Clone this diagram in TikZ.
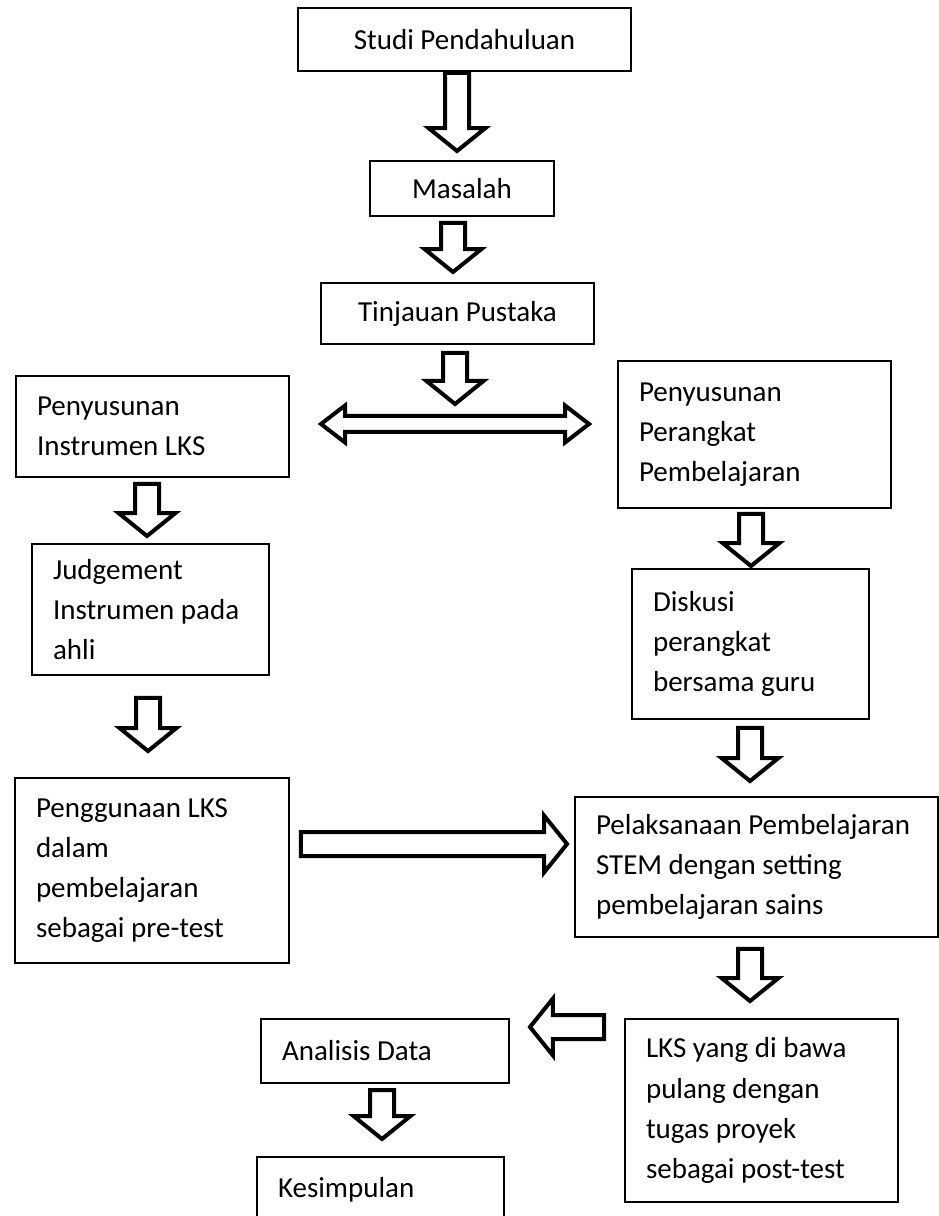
\documentclass[tikz,border=0pt]{standalone}
\usepackage{fontspec}
\setmainfont{Carlito}
\usetikzlibrary{calc}

\tikzset{
  box/.style={draw, line width=0.04cm, inner xsep=0.42cm, inner ysep=0pt, align=flush left,
    font=\fontsize{16.5}{22.8}\selectfont},
  midbox/.style={draw, line width=0.04cm, inner sep=0pt, align=center,
    font=\fontsize{16.5}{22.8}\selectfont},
  fat/.style={draw, line width=0.08cm, fill=white, line join=miter},
}

% hollow block arrow, #1 tail, #2 tip
\newcommand{\fatarrow}[2]{
  \coordinate (fa) at (#1);
  \coordinate (fb) at (#2);
  \coordinate (fc) at ($(fb)!0.46cm!(fa)$);
  \draw[fat] ($(fa)!0.24cm!90:(fb)$) -- ($(fc)!0.24cm!90:(fb)$) -- ($(fc)!0.57cm!90:(fb)$)
    -- (fb) -- ($(fc)!0.57cm!-90:(fb)$) -- ($(fc)!0.24cm!-90:(fb)$) -- ($(fa)!0.24cm!-90:(fb)$) -- cycle;
}
% hollow block arrow with two heads
\newcommand{\fatboth}[2]{
  \coordinate (fa) at (#1);
  \coordinate (fb) at (#2);
  \coordinate (fc) at ($(fb)!0.48cm!(fa)$);
  \coordinate (fd) at ($(fa)!0.48cm!(fb)$);
  \draw[fat] (fa) -- ($(fd)!0.37cm!90:(fb)$) -- ($(fd)!0.16cm!90:(fb)$) -- ($(fc)!0.16cm!90:(fb)$)
    -- ($(fc)!0.37cm!90:(fb)$) -- (fb) -- ($(fc)!0.37cm!-90:(fb)$) -- ($(fc)!0.16cm!-90:(fb)$)
    -- ($(fd)!0.16cm!-90:(fb)$) -- ($(fd)!0.37cm!-90:(fb)$) -- cycle;
}

\begin{document}
\begin{tikzpicture}[x=0.02cm, y=-0.02cm]
  \useasboundingbox (0,0) rectangle (939,1216);

  % middle column
  \node[midbox, minimum width=6.66cm, minimum height=1.26cm] (studi) at (464.5,39.5) {Studi Pendahuluan};
  \node[midbox, minimum width=3.68cm, minimum height=1.1cm] (masalah) at (462,188.5) {Masalah};
  \node[midbox, minimum width=5.46cm, minimum height=1.22cm] (tinjauan) at (457.5,313.5) {Tinjauan Pustaka};

  % left column
  \node[box, text width=4.62cm, minimum height=2.02cm] (instrumen) at (152.5,426.5) {Penyusunan\\Instrumen LKS};
  \node[box, text width=3.9cm, minimum height=2.62cm] (judge) at (150.5,609.5) {Judgement\\Instrumen pada\\ahli};
  \node[box, text width=4.64cm, minimum height=3.7cm] (pakai) at (152,870.5) {Penggunaan LKS\\dalam\\pembelajaran\\sebagai pre-test};

  % right column
  \node[box, text width=4.62cm, minimum height=2.94cm] (perangkat) at (754.5,434.5) {Penyusunan\\Perangkat\\Pembelajaran};
  \node[box, text width=3.9cm, minimum height=3cm] (diskusi) at (750.5,644) {Diskusi\\perangkat\\bersama guru};
  \node[box, text width=6.42cm, minimum height=2.8cm] (laksana) at (756.5,867) {Pelaksanaan~Pembelajaran\\STEM dengan setting\\pembelajaran sains};
  \node[box, text width=4.62cm, minimum height=3.66cm] (lksrumah) at (761.5,1110.5) {LKS yang di bawa\\pulang dengan\\tugas proyek\\sebagai post-test};

  % bottom
  \node[box, text width=4.12cm, minimum height=1.28cm] (analisis) at (385,1051) {Analisis Data};
  \node[box, text width=4.1cm, minimum height=1.3cm] (simpul) at (380.5,1189.5) {Kesimpulan};

  \coordinate (hub) at ($(tinjauan.south)+(-2.5,79)$);

  \fatarrow{$(studi.south)+(-7.5,1)$}{$(masalah.north)+(-5,-9)$}
  \fatarrow{$(masalah.south)+(-9,6)$}{$(tinjauan.north)+(-4.5,-10)$}
  \fatarrow{$(tinjauan.south)+(-2.5,8)$}{$(hub)+(0,-20)$}
  \fatboth{$(hub)+(-134,0)$}{$(hub)+(134,0)$}

  \fatarrow{$(instrumen.south)+(-5.5,6)$}{$(judge.north)+(-3.5,-7)$}
  \fatarrow{$(judge.south)+(-2.5,22)$}{$(pakai.north)+(-4,-26)$}
  \fatarrow{$(pakai.east)+(11,-26.5)$}{$(laksana.west)+(-7,-23)$}

  \fatarrow{$(perangkat.south)+(-3.5,5)$}{$(diskusi.north)+(0.5,-2)$}
  \fatarrow{$(diskusi.south)+(-0.5,8)$}{$(laksana.north)+(-6.5,-15)$}
  \fatarrow{$(laksana.south)+(-6.5,11)$}{$(lksrumah.north)+(-11.5,-17)$}
  \fatarrow{$(lksrumah.west)+(-20,-83.5)$}{$(analisis.east)+(20,-24)$}
  \fatarrow{$(analisis.south)+(-3,6)$}{$(simpul.north)+(1.5,-17)$}
\end{tikzpicture}
\end{document}
